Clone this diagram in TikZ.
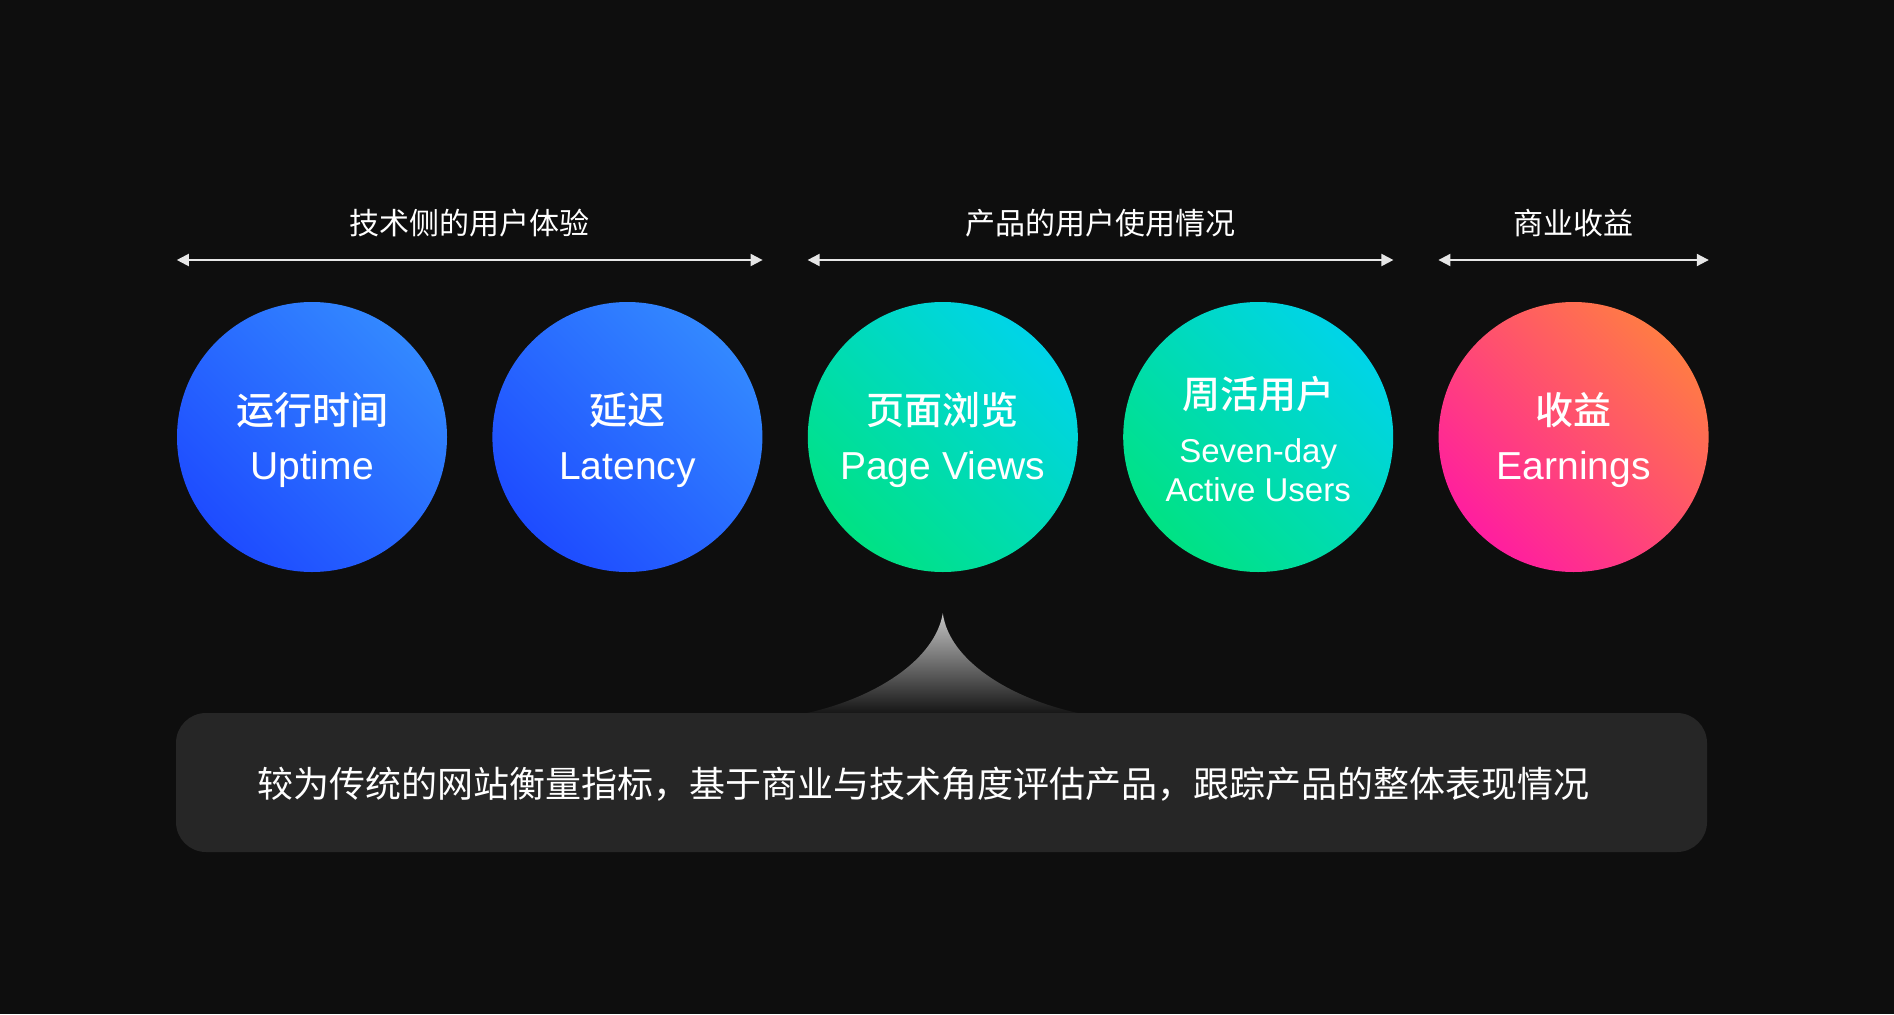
\documentclass[tikz,border=0pt]{standalone}
\usepackage{fontspec}
\setmainfont{Noto Sans CJK SC}[BoldFont={Noto Sans CJK SC Medium}]
\newfontfamily\latinfont{Liberation Sans}
\usepackage{tikz}
\usetikzlibrary{positioning, arrows.meta}

\definecolor{bgdark}{HTML}{0E0E0E}
\definecolor{boxgray}{HTML}{262626}
\definecolor{linegray}{HTML}{E6E6E6}
\definecolor{blueTop}{HTML}{3388FF}
\definecolor{blueBot}{HTML}{1E4CFF}
\definecolor{greenTop}{HTML}{00D4E8}
\definecolor{greenBot}{HTML}{00E284}
\definecolor{pinkTop}{HTML}{FF7B45}
\definecolor{pinkBot}{HTML}{FF1E9F}
\definecolor{spikeTop}{HTML}{C4C4C4}
\definecolor{spikeBot}{HTML}{161616}

\begin{document}
\begin{tikzpicture}[x=1pt, y=-1pt,
    metric/.style={circle, minimum size=270pt, inner sep=0pt},
    bluefill/.style={top color=blueTop, bottom color=blueBot, shading angle=-45},
    greenfill/.style={top color=greenTop, bottom color=greenBot, shading angle=-45},
    pinkfill/.style={top color=pinkTop, bottom color=pinkBot, shading angle=-45},
    zh/.style={anchor=base, inner sep=0pt, text=white, font=\fontsize{38}{44}\selectfont\bfseries},
    en/.style={anchor=base, inner sep=0pt, text=white, font=\fontsize{39}{46}\selectfont\latinfont},
    ensmall/.style={anchor=base, inner sep=0pt, text=white, font=\fontsize{33}{40}\selectfont\latinfont},
    span/.style={{Triangle[length=12pt, width=12pt]}-{Triangle[length=12pt, width=12pt]}, draw=linegray, line width=2pt},
    group/.style={inner sep=0pt, text=white, font=\fontsize{30}{36}\selectfont},
    descbox/.style={rectangle, rounded corners=30pt, fill=boxgray, minimum width=1531pt, minimum height=139pt, inner sep=0pt},
    desctext/.style={anchor=west, inner sep=0pt, text=white, font=\fontsize{36}{42}\selectfont}
]
    % Background
    \fill[bgdark] (0,0) rectangle (1894,1014);

    % Metric circles
    \node[metric, bluefill] (up) at (312,437) {};
    \node[metric, bluefill, right=45pt of up] (lat) {};
    \node[metric, greenfill, right=45pt of lat] (pv) {};
    \node[metric, greenfill, right=45pt of pv] (wau) {};
    \node[metric, pinkfill, right=45pt of wau] (earn) {};

    \node[zh] (upZh) at ([yshift=13pt]up.center) {运行时间};
    \node[en] (upEn) at ([yshift=-42pt]up.center) {Uptime};
    \node[zh] (latZh) at ([yshift=13pt]lat.center) {延迟};
    \node[en] (latEn) at ([yshift=-42pt]lat.center) {Latency};
    \node[zh] (pvZh) at ([yshift=13pt]pv.center) {页面浏览};
    \node[en] (pvEn) at ([yshift=-42pt]pv.center) {Page Views};
    \node[zh] (wauZh) at ([yshift=29pt]wau.center) {周活用户};
    \node[ensmall] (wauEn) at ([yshift=-25pt]wau.center) {Seven-day};
    \node[ensmall] (wauEn2) at ([yshift=-64pt]wau.center) {Active Users};
    \node[zh] (earnZh) at ([yshift=13pt]earn.center) {收益};
    \node[en] (earnEn) at ([yshift=-42pt]earn.center) {Earnings};

    % Group spans
    \coordinate (row) at (0,260);
    \draw[span] (up.west |- row) -- node[group, yshift=37pt] (techLbl) {技术侧的用户体验} (lat.east |- row);
    \draw[span] (pv.west |- row) -- node[group, yshift=37pt] (prodLbl) {产品的用户使用情况} (wau.east |- row);
    \draw[span] (earn.west |- row) -- node[group, yshift=37pt] (bizLbl) {商业收益} (earn.east |- row);

    % Pointer and description
    \coordinate (tip) at ([yshift=-41pt]pv.south);
    \shade[top color=spikeTop, bottom color=spikeBot] (tip) .. controls (935,660) and (875,698) .. (807,713)
        -- (1078,713) .. controls (1009,698) and (949,660) .. (tip) -- cycle;
    \node[descbox] (desc) at (941.5,782.5) {};
    \node[desctext] (descTxt) at ([xshift=81pt, yshift=-2pt]desc.west) {较为传统的网站衡量指标，基于商业与技术角度评估产品，跟踪产品的整体表现情况};
\end{tikzpicture}
\end{document}
